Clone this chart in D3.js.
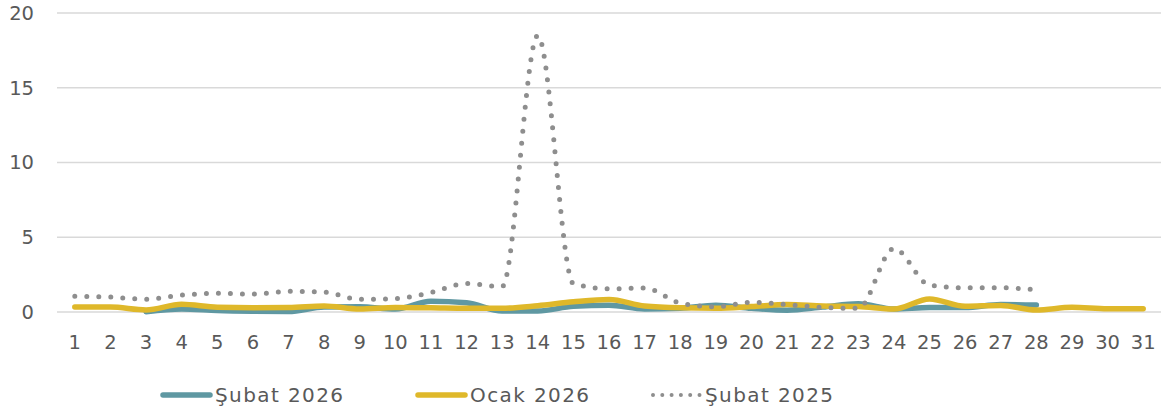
<!DOCTYPE html>
<html>
<head>
<meta charset="utf-8">
<script src="https://cdn.jsdelivr.net/npm/d3@7"></script>
<style>
  body { margin: 0; background: #fff; }
  svg { display: block; }
  .tick-label { font-family: "DejaVu Sans", sans-serif; font-size: 19.5px; fill: #595959; }
  .legend-label { font-family: "DejaVu Sans", sans-serif; font-size: 20px; letter-spacing: 1.4px; fill: #595959; }
</style>
</head>
<body>
<svg id="chart" width="1171" height="416"></svg>
<script>
const days = d3.range(1, 32);
const yTicks = [0, 5, 10, 15, 20];

// Şubat 2026 (starts on day 3, ends on day 28)
const subat2026 = [null, null, 0.02, 0.2, 0.1, 0.05, 0.03, 0.33, 0.35, 0.2, 0.72, 0.62, 0.07, 0.07, 0.38, 0.45, 0.2, 0.25, 0.45, 0.25, 0.12, 0.33, 0.55, 0.2, 0.3, 0.3, 0.5, 0.47];
// Ocak 2026
const ocak2026 = [0.33, 0.33, 0.14, 0.52, 0.32, 0.29, 0.3, 0.4, 0.2, 0.3, 0.28, 0.25, 0.25, 0.42, 0.68, 0.84, 0.4, 0.28, 0.25, 0.36, 0.5, 0.4, 0.36, 0.2, 0.87, 0.38, 0.44, 0.13, 0.31, 0.22, 0.22];
// Şubat 2025
const subat2025 = [1.05, 1.0, 0.85, 1.13, 1.25, 1.2, 1.38, 1.33, 0.85, 0.9, 1.3, 1.9, 1.7, 18.5, 1.9, 1.55, 1.6, 0.6, 0.35, 0.65, 0.5, 0.3, 0.25, 4.25, 1.8, 1.62, 1.62, 1.48];

const seriesNames = ['Şubat 2026', 'Ocak 2026', 'Şubat 2025'];

const svg = d3.select('#chart');
const plotL = 57, plotR = 1161, plotT = 13, plotB = 312;

const x = d3.scaleBand().domain(days).range([plotL, plotR]);
const y = d3.scaleLinear().domain([0, 20]).range([plotB, plotT]);
const cx = (d) => x(d) + x.bandwidth() / 2;

// gridlines
svg.append('g')
  .selectAll('line')
  .data(yTicks)
  .join('line')
  .attr('x1', plotL)
  .attr('x2', plotR)
  .attr('y1', (d) => y(d))
  .attr('y2', (d) => y(d))
  .attr('stroke', '#d9d9d9')
  .attr('stroke-width', 1.5);

// y labels
svg.append('g')
  .selectAll('text')
  .data(yTicks)
  .join('text')
  .attr('class', 'tick-label')
  .attr('x', 34)
  .attr('y', (d) => y(d))
  .attr('dy', '0.35em')
  .attr('text-anchor', 'end')
  .text((d) => d);

// x labels
svg.append('g')
  .selectAll('text')
  .data(days)
  .join('text')
  .attr('class', 'tick-label')
  .attr('x', (d) => cx(d))
  .attr('y', 342)
  .attr('dy', '0.35em')
  .attr('text-anchor', 'middle')
  .text((d) => d);

const line = d3.line()
  .defined((d) => d != null)
  .x((d, i) => cx(days[i]))
  .y((d) => y(d))
  .curve(d3.curveMonotoneX);

const styles = [
  { color: '#5f98a2', width: 5.5, dash: null },
  { color: '#dfb82a', width: 5.5, dash: null },
  { color: '#8e8e8e', width: 5, dash: '0 12' }
];
const data = [subat2026, ocak2026, subat2025];

data.forEach((vals, i) => {
  const s = styles[i];
  svg.append('path')
    .datum(vals)
    .attr('fill', 'none')
    .attr('stroke', s.color)
    .attr('stroke-width', s.width)
    .attr('stroke-linecap', 'round')
    .attr('stroke-linejoin', 'round')
    .attr('stroke-dasharray', s.dash)
    .attr('d', line);
});

// legend
const legendX = [160, 415, 650];
const ly = 395;
const lg = svg.append('g');
seriesNames.forEach((name, i) => {
  const s = styles[i];
  const dotted = s.dash != null;
  lg.append('line')
    .attr('x1', legendX[i] + 3)
    .attr('x2', legendX[i] + 50)
    .attr('y1', ly)
    .attr('y2', ly)
    .attr('stroke', s.color)
    .attr('stroke-width', dotted ? 4 : s.width)
    .attr('stroke-linecap', 'round')
    .attr('stroke-dasharray', dotted ? '0 9.3' : null);
  lg.append('text')
    .attr('class', 'legend-label')
    .attr('x', legendX[i] + 55)
    .attr('y', ly)
    .attr('dy', '0.35em')
    .text(name);
});
</script>
</body>
</html>
